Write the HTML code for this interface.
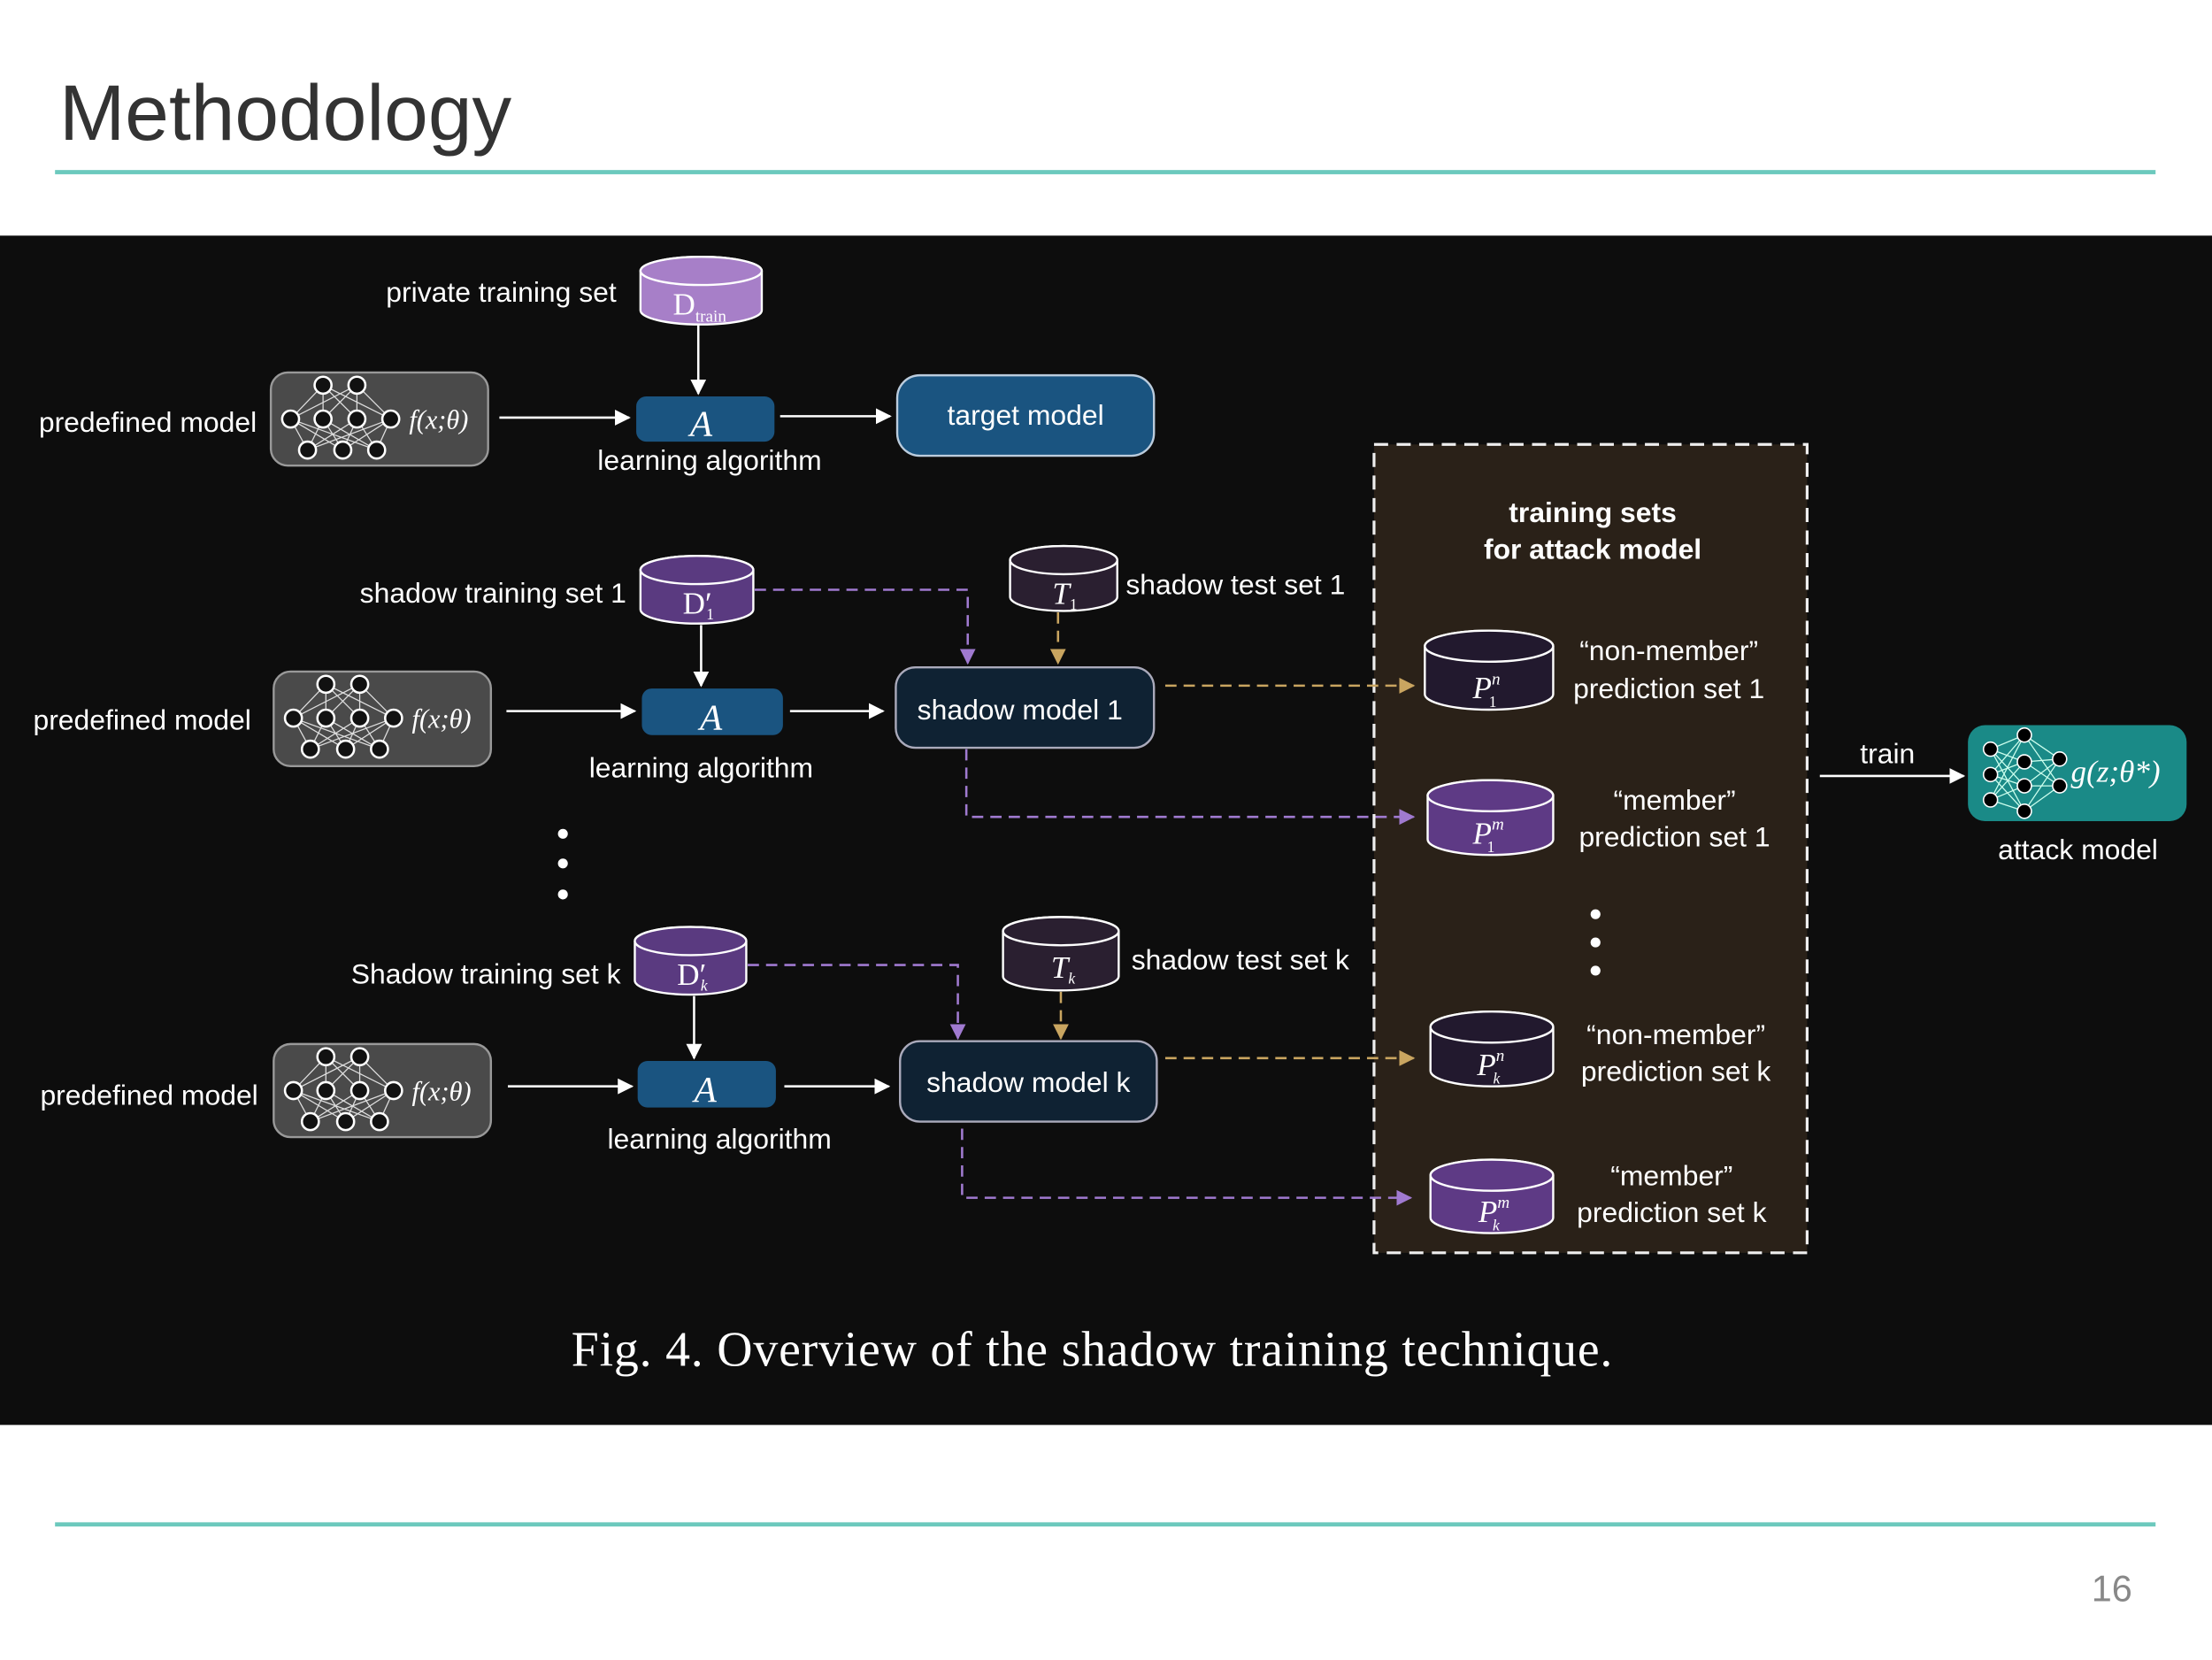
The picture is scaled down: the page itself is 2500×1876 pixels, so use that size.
<!DOCTYPE html>
<html><head><meta charset="utf-8"><style>html,body{margin:0;padding:0;background:#fff}svg{display:block}</style></head><body>
<svg width="2500" height="1876" viewBox="0 0 1568 1176.6" xmlns="http://www.w3.org/2000/svg" font-family="'Liberation Sans', sans-serif">
<defs>
<marker id="aw" viewBox="0 0 10 10" refX="9" refY="5" markerWidth="7" markerHeight="7" orient="auto"><path d="M0,0 L10,5 L0,10 z" fill="#fff"/></marker>
<marker id="ap" viewBox="0 0 10 10" refX="9" refY="5" markerWidth="7" markerHeight="7" orient="auto"><path d="M0,0 L10,5 L0,10 z" fill="#a07ad0"/></marker>
<marker id="ag" viewBox="0 0 10 10" refX="9" refY="5" markerWidth="7" markerHeight="7" orient="auto"><path d="M0,0 L10,5 L0,10 z" fill="#c9a560"/></marker>
<g id="net" stroke="#ddd" stroke-width="0.8" fill="none">
<path d="M37,9 L14,33 M37,9 L37,33 M37,9 L61,33 M37,9 L85,33 M61,9 L14,33 M61,9 L37,33 M61,9 L61,33 M61,9 L85,33 M14,33 L26,55 M14,33 L51,55 M14,33 L75,55 M37,33 L26,55 M37,33 L51,55 M37,33 L75,55 M61,33 L26,55 M61,33 L51,55 M61,33 L75,55 M85,33 L26,55 M85,33 L51,55 M85,33 L75,55"/>
<g fill="#111" stroke="#fff" stroke-width="1.6">
<circle cx="37" cy="9" r="6"/><circle cx="61" cy="9" r="6"/>
<circle cx="14" cy="33" r="6"/><circle cx="37" cy="33" r="6"/><circle cx="61" cy="33" r="6"/><circle cx="85" cy="33" r="6"/>
<circle cx="26" cy="55" r="6"/><circle cx="51" cy="55" r="6"/><circle cx="75" cy="55" r="6"/>
</g></g>
</defs>
<rect width="1568" height="1177" fill="#fff"/>
<text x="42" y="99" font-size="56" fill="#333">Methodology</text>
<rect x="39" y="120.5" width="1489" height="3" fill="#6cc9bd"/>
<rect x="0" y="167" width="1568" height="843" fill="#0d0d0d"/>
<rect x="39" y="1079" width="1489" height="3" fill="#6cc9bd"/>
<text x="1497" y="1135" font-size="26" fill="#888" text-anchor="middle">16</text>

<rect x="974" y="315" width="307" height="573" fill="#2a2118" stroke="#eee" stroke-width="2" stroke-dasharray="10,6"/>

<g fill="#fff" font-size="20">
<text x="437" y="214" text-anchor="end">private training set</text>
<text x="182" y="306" text-anchor="end">predefined model</text>
<text x="503" y="333" text-anchor="middle">learning algorithm</text>
<text x="444" y="427" text-anchor="end">shadow training set 1</text>
<text x="798" y="421">shadow test set 1</text>
<text x="178" y="517" text-anchor="end">predefined model</text>
<text x="497" y="551" text-anchor="middle">learning algorithm</text>
<text x="440" y="697" text-anchor="end">Shadow training set k</text>
<text x="802" y="687">shadow test set k</text>
<text x="183" y="783" text-anchor="end">predefined model</text>
<text x="510" y="814" text-anchor="middle">learning algorithm</text>
<text x="1129" y="370" text-anchor="middle" font-weight="bold">training sets</text>
<text x="1129" y="396" text-anchor="middle" font-weight="bold">for attack model</text>
<text x="1183" y="468" text-anchor="middle">“non-member”</text>
<text x="1183" y="495" text-anchor="middle">prediction set 1</text>
<text x="1187" y="574" text-anchor="middle">“member”</text>
<text x="1187" y="600" text-anchor="middle">prediction set 1</text>
<text x="1188" y="740" text-anchor="middle">“non-member”</text>
<text x="1188" y="766" text-anchor="middle">prediction set k</text>
<text x="1185" y="840" text-anchor="middle">“member”</text>
<text x="1185" y="866" text-anchor="middle">prediction set k</text>
<text x="1338" y="541" text-anchor="middle">train</text>
<text x="1473" y="609" text-anchor="middle">attack model</text>
</g>

<g>
<rect x="192" y="264" width="154" height="66" rx="12" fill="#4a4a4a" stroke="#999" stroke-width="1.5"/>
<use href="#net" x="192" y="264"/>
<text x="290" y="304" font-family="'Liberation Serif',serif" font-style="italic" font-size="19" fill="#fff">f(x;θ)</text>
<rect x="194" y="476" width="154" height="67" rx="12" fill="#4a4a4a" stroke="#999" stroke-width="1.5"/>
<use href="#net" x="194" y="476"/>
<text x="292" y="516" font-family="'Liberation Serif',serif" font-style="italic" font-size="19" fill="#fff">f(x;θ)</text>
<rect x="194" y="740" width="154" height="66" rx="12" fill="#4a4a4a" stroke="#999" stroke-width="1.5"/>
<use href="#net" x="194" y="740"/>
<text x="292" y="780" font-family="'Liberation Serif',serif" font-style="italic" font-size="19" fill="#fff">f(x;θ)</text>
</g>

<g font-family="'Liberation Serif',serif" font-style="italic" font-size="26" fill="#fff" text-anchor="middle">
<rect x="451" y="281" width="98" height="32" rx="7" fill="#1a5480"/><text x="497" y="309">A</text>
<rect x="455" y="488" width="100" height="33" rx="7" fill="#1a5480"/><text x="504" y="517">A</text>
<rect x="452" y="752" width="98" height="33" rx="7" fill="#1a5480"/><text x="500" y="781">A</text>
</g>

<g font-size="20" fill="#fff" text-anchor="middle">
<rect x="636" y="266" width="182" height="57" rx="16" fill="#1a5480" stroke="#bcd" stroke-width="1.5"/><text x="727" y="301" fill="#fff">target model</text>
<rect x="635" y="473" width="183" height="57" rx="14" fill="#0f2233" stroke="#aab" stroke-width="1.5"/><text x="723" y="510" fill="#fff">shadow model 1</text>
<rect x="638" y="738" width="182" height="57" rx="14" fill="#0f2233" stroke="#aab" stroke-width="1.5"/><text x="729" y="774" fill="#fff">shadow model k</text>
<rect x="1395" y="514" width="155" height="68" rx="12" fill="#1a8a87"/>
</g>
<g stroke="#cfe" stroke-width="0.8" fill="none">
<path d="M1411,531 L1435,521 M1411,531 L1435,540 M1411,531 L1435,557 M1411,531 L1435,575 M1411,549 L1435,521 M1411,549 L1435,540 M1411,549 L1435,557 M1411,549 L1435,575 M1411,567 L1435,521 M1411,567 L1435,540 M1411,567 L1435,557 M1411,567 L1435,575 M1435,521 L1460,538 M1435,540 L1460,538 M1435,557 L1460,538 M1435,575 L1460,538 M1435,521 L1460,557 M1435,540 L1460,557 M1435,557 L1460,557 M1435,575 L1460,557"/>
<g fill="#000" stroke="#fff" stroke-width="1">
<circle cx="1411" cy="531" r="5"/><circle cx="1411" cy="549" r="5"/><circle cx="1411" cy="567" r="5"/>
<circle cx="1435" cy="521" r="5"/><circle cx="1435" cy="540" r="5"/><circle cx="1435" cy="557" r="5"/><circle cx="1435" cy="575" r="5"/>
<circle cx="1460" cy="538" r="5"/><circle cx="1460" cy="557" r="5"/>
</g></g>
<text x="1468" y="554" font-family="'Liberation Serif',serif" font-style="italic" font-size="22" fill="#fff">g(z;θ*)</text>

<g stroke="#fff" stroke-width="1.5">
<path d="M454,192 A43,10 0 0 1 540,192 V220 A43,10 0 0 1 454,220 Z" fill="#a77fc8"/><ellipse cx="497" cy="192" rx="43" ry="10" fill="#a77fc8"/>
<path d="M454,404 A40,10 0 0 1 534,404 V432 A40,10 0 0 1 454,432 Z" fill="#5a3a80"/><ellipse cx="494" cy="404" rx="40" ry="10" fill="#5a3a80"/>
<path d="M716,397 A38,10 0 0 1 792,397 V423 A38,10 0 0 1 716,423 Z" fill="#2a1f30"/><ellipse cx="754" cy="397" rx="38" ry="10" fill="#2a1f30"/>
<path d="M450,667 A39.5,10 0 0 1 529,667 V695 A39.5,10 0 0 1 450,695 Z" fill="#5a3a80"/><ellipse cx="489.5" cy="667" rx="39.5" ry="10" fill="#5a3a80"/>
<path d="M711,660 A41,10 0 0 1 793,660 V692 A41,10 0 0 1 711,692 Z" fill="#2a1f30"/><ellipse cx="752" cy="660" rx="41" ry="10" fill="#2a1f30"/>
<path d="M1010,458 A45.5,11 0 0 1 1101,458 V492 A45.5,11 0 0 1 1010,492 Z" fill="#22192e"/><ellipse cx="1055.5" cy="458" rx="45.5" ry="11" fill="#22192e"/>
<path d="M1012,564 A44.5,11 0 0 1 1101,564 V595 A44.5,11 0 0 1 1012,595 Z" fill="#5e3a85"/><ellipse cx="1056.5" cy="564" rx="44.5" ry="11" fill="#5e3a85"/>
<path d="M1014,728 A43.5,11 0 0 1 1101,728 V759 A43.5,11 0 0 1 1014,759 Z" fill="#22192e"/><ellipse cx="1057.5" cy="728" rx="43.5" ry="11" fill="#22192e"/>
<path d="M1014,833 A43.5,11 0 0 1 1101,833 V863 A43.5,11 0 0 1 1014,863 Z" fill="#5e3a85"/><ellipse cx="1057.5" cy="833" rx="43.5" ry="11" fill="#5e3a85"/>
</g>
<g font-family="'Liberation Serif',serif" fill="#fff" font-size="22">
<text x="477" y="223">D<tspan font-size="12" dy="5">train</tspan></text>
<text x="484" y="435">D′<tspan font-size="11" dy="4" dx="-4">1</tspan></text>
<text x="480" y="698">D′<tspan font-size="11" dy="4" dx="-4" font-style="italic">k</tspan></text>
<text x="746" y="428" font-style="italic">T<tspan font-size="11" dy="4" font-style="normal">1</tspan></text>
<text x="745" y="693" font-style="italic">T<tspan font-size="11" dy="4">k</tspan></text>
<g font-style="italic">
<text x="1044" y="495">P<tspan font-size="12" dy="-10">n</tspan><tspan font-size="11" dx="-8" dy="16" font-style="normal">1</tspan></text>
<text x="1044" y="598">P<tspan font-size="12" dy="-10">m</tspan><tspan font-size="11" dx="-12" dy="16" font-style="normal">1</tspan></text>
<text x="1047" y="762">P<tspan font-size="12" dy="-10">n</tspan><tspan font-size="11" dx="-8" dy="16">k</tspan></text>
<text x="1048" y="866">P<tspan font-size="12" dy="-10">m</tspan><tspan font-size="11" dx="-12" dy="16">k</tspan></text>
</g></g>

<g stroke="#fff" stroke-width="1.6" fill="none" marker-end="url(#aw)">
<path d="M495,230 V279"/><path d="M354,296 H446"/><path d="M553,295 H631"/>
<path d="M497,443 V486"/><path d="M359,504 H450"/><path d="M560,504 H626"/>
<path d="M492,706 V750"/><path d="M360,770 H448"/><path d="M556,770 H630"/>
<path d="M1290,550 H1392"/>
</g>
<g stroke="#a07ad0" stroke-width="1.6" fill="none" stroke-dasharray="8,5" marker-end="url(#ap)">
<path d="M535,418 H686 V470"/><path d="M685,531 V579 H1002"/>
<path d="M530,684 H679 V736"/><path d="M682,800 V849 H1000"/>
</g>
<g stroke="#c9a560" stroke-width="1.6" fill="none" stroke-dasharray="8,5" marker-end="url(#ag)">
<path d="M750,434 V470"/><path d="M826,486 H1002"/>
<path d="M752,703 V736"/><path d="M826,750 H1002"/>
</g>
<g fill="#fff"><circle cx="399" cy="591" r="3.5"/><circle cx="399" cy="612" r="3.5"/><circle cx="399" cy="634" r="3.5"/>
<circle cx="1131" cy="648" r="3.5"/><circle cx="1131" cy="668" r="3.5"/><circle cx="1131" cy="688" r="3.5"/></g>

<text x="405" y="968" textLength="738" lengthAdjust="spacing" font-family="'Liberation Serif',serif" font-size="35" fill="#fff">Fig. 4.  Overview of the shadow training technique.</text>
</svg>
</body></html>
